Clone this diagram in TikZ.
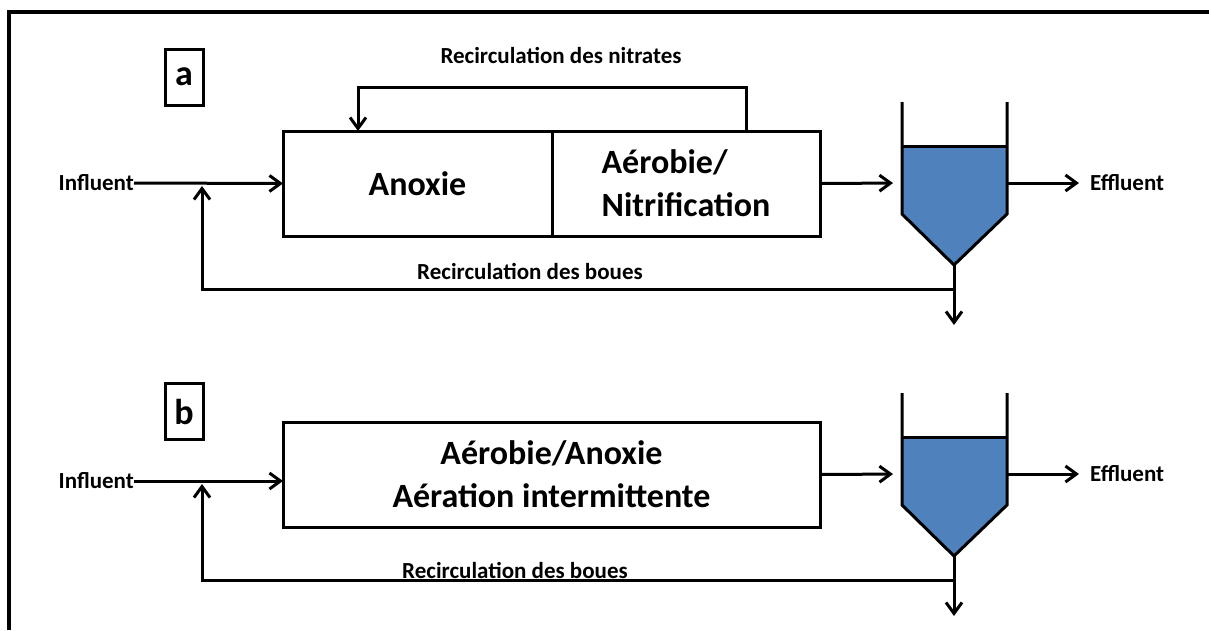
\documentclass[tikz,border=0pt]{standalone}
\usepackage{fontspec}
\setmainfont{Carlito}
\usetikzlibrary{arrows.meta}
\usetikzlibrary{positioning}
\usetikzlibrary{calc}
\definecolor{eau}{RGB}{79,129,189}
\tikzstyle{bloc}=[draw, line width=3pt, inner sep=0pt, outer sep=0pt, minimum height=105pt, align=center, font=\fontsize{34}{43}\selectfont\bfseries]
\tikzstyle{tag}=[draw, line width=3pt, inner sep=0pt, minimum width=38pt, minimum height=56pt, font=\fontsize{36}{40}\selectfont\bfseries]
\tikzstyle{lbl}=[inner sep=0pt, font=\fontsize{23}{27}\selectfont\bfseries]
\tikzstyle{flow}=[draw, line width=3pt, ->]
\tikzstyle{tank}=[draw, line width=3pt]

\begin{document}
\begin{tikzpicture}[x=1pt, y=-1pt, >={Straight Barb[length=11pt,width=16pt]}]

  \fill[white] (0,0) rectangle (1211,630);
  \useasboundingbox (0,0) rectangle (1211,630);
  \draw[line width=3.5pt] (9,630) -- (9,12) -- (1209,12);

  % clarificateurs (a et b)
  \foreach \dy/\p in {0/A, 291/B} {
     \fill[eau] (902,146+\dy) -- (1007,146+\dy) -- (1007,214+\dy) -- (954,265+\dy) -- (902,214+\dy) -- cycle;
     \draw[tank] (902,102+\dy) -- (902,214+\dy) -- (954,265+\dy) -- (1007,214+\dy) -- (1007,102+\dy);
     \draw[tank] (902,146+\dy) -- (1007,146+\dy);
     \coordinate (in\p) at (902,183+\dy);
     \coordinate (out\p) at (1007,183+\dy);
     \coordinate (bot\p) at (954,265+\dy);
     \coordinate (ret\p) at (954,289+\dy);
     \coordinate (purge\p) at (954,325+\dy);
     \node[lbl, anchor=west] (eff\p) at (1090,183+\dy) {Effluent};
     \draw[flow] (out\p) -- ($(eff\p.west)+(-11,0)$);
     \draw[flow] (bot\p) -- (purge\p);
  }

  % a
  \node[tag] (tagA) at (184,77) {a};
  \node[lbl, anchor=east] (infA) at (134,183) {Influent};
  \node[bloc, minimum width=269pt] (anox) at (417.5,183.5) {Anoxie};
  \node[bloc, minimum width=268pt, align=left, right=0pt of anox] (aero) {A\'erobie/\\Nitrification};
  \coordinate (mixA) at (202,183);
  \coordinate (nitrOut) at ($(aero.north)+(60,0)$);
  \coordinate (nitrIn) at ($(anox.north)+(-59.5,0)$);

  \draw[flow] (infA.east) -- (anox.west);
  \draw[flow, shorten >=9pt] (aero.east) -- (inA);
  \draw[flow] (nitrOut) -- ++(0,-44) -| (nitrIn);
  \draw[flow, shorten >=3pt] (retA) -| (mixA);

  \node[lbl] (nitr) at (561,55) {Recirculation des nitrates};
  \node[lbl] (bouesA) at (530,271) {Recirculation des boues};

  % b
  \node[tag] (tagB) at (184,411.5) {b};
  \node[lbl, anchor=east] (infB) at (134,481) {Influent};
  \node[bloc, minimum width=537pt] (bio) at (551.5,474.5) {A\'erobie/Anoxie\\A\'eration intermittente};
  \coordinate (mixB) at (202,481);

  \draw[flow] (infB.east) -- (infB.east -| bio.west);
  \draw[flow, shorten >=9pt] (bio.east) -- (inB);
  \draw[flow, shorten >=3pt] (retB) -| (mixB);

  \node[lbl] (bouesB) at (515,570) {Recirculation des boues};

\end{tikzpicture}
\end{document}
